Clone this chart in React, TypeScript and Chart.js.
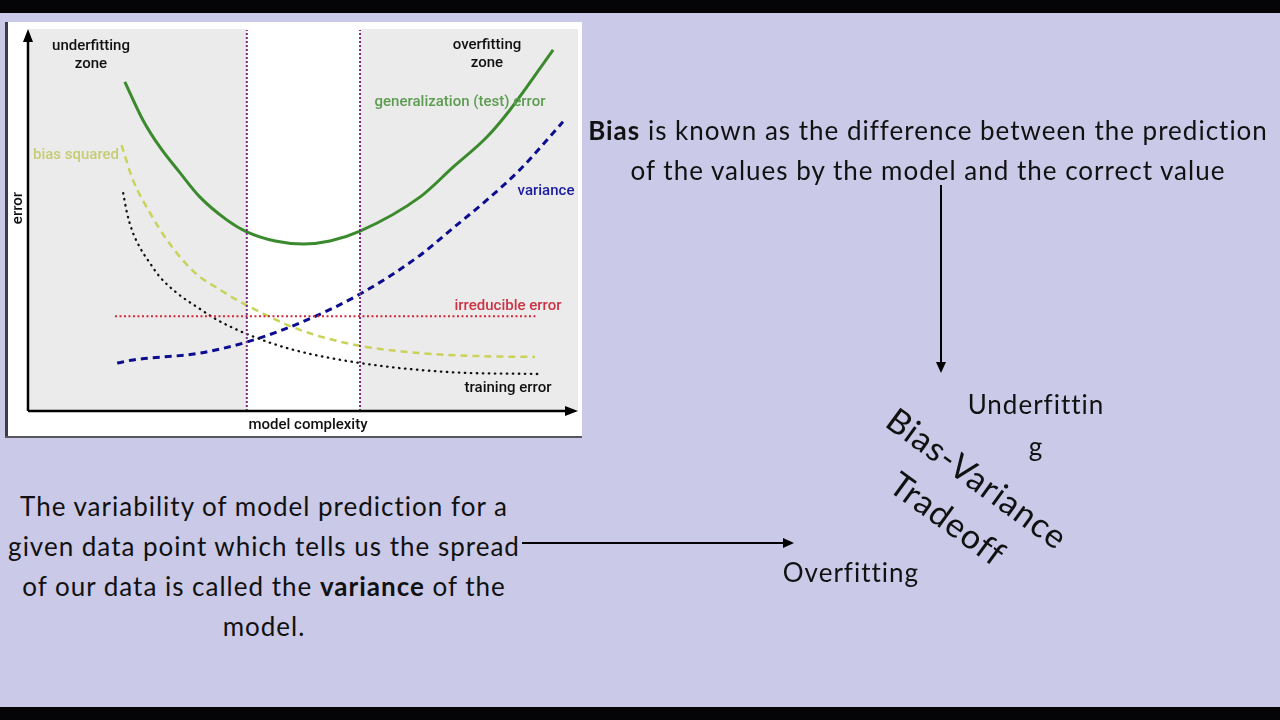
import React, { useEffect, useRef } from "react";
import { Chart, registerables } from "chart.js";

Chart.register(...registerables);

// x: model complexity (0–10), y: error (0–10)
const testError = [
  [1.77, 8.64], [2.1, 7.64], [2.41, 6.93], [2.78, 6.25], [3.14, 5.62], [3.64, 5.01],
  [4.0, 4.7], [4.52, 4.46], [5.03, 4.38], [5.52, 4.46], [6.07, 4.72], [7.17, 5.62],
  [7.77, 6.4], [8.39, 7.19], [8.81, 7.9], [9.6, 9.48],
];
const biasSquared = [
  [1.71, 6.98], [1.92, 6.06], [2.23, 5.2], [2.54, 4.49], [2.83, 3.96], [3.14, 3.52],
  [3.46, 3.23], [3.75, 2.97], [4.02, 2.76], [4.97, 2.13], [6.07, 1.71], [7.17, 1.52],
  [8.26, 1.44], [9.27, 1.42],
];
const trainingError = [
  [1.74, 5.72], [1.81, 5.2], [1.9, 4.75], [2.05, 4.28], [2.23, 3.88], [2.41, 3.52],
  [2.72, 3.1], [3.09, 2.73], [3.46, 2.39], [3.75, 2.18], [4.0, 2.02], [4.79, 1.63],
  [6.07, 1.26], [7.71, 1.02], [9.36, 0.97],
];
const variance = [
  [1.63, 1.26], [1.92, 1.34], [3.14, 1.52], [4.0, 1.81], [4.97, 2.31], [6.07, 3.07],
  [7.17, 4.09], [7.77, 4.8], [8.39, 5.54], [8.99, 6.33], [9.78, 7.59],
];
const irreducible = [[1.59, 2.49], [9.31, 2.49]];
const zoneBounds = [4.0, 6.07];
const yRange = [0, 10];

const toXY = (arr: number[][]) => arr.map(([x, y]) => ({ x, y }));

const bgPlugin = {
  id: "bgPlugin",
  beforeDraw(chart: any) {
    const { ctx, chartArea, scales } = chart;
    const W = chart.width, H = chart.height;
    ctx.save();
    ctx.fillStyle = "#ffffff";
    ctx.fillRect(0, 0, W, H);
    ctx.fillStyle = "#3c3c44";
    ctx.fillRect(0, 0, 3, H);
    ctx.fillStyle = "#56565e";
    ctx.fillRect(0, H - 2, W, 2);
    ctx.fillStyle = "#ebebeb";
    ctx.fillRect(chartArea.left, chartArea.top - 1, chartArea.right + 3 - chartArea.left, chartArea.bottom - chartArea.top + 1);
    const x0 = scales.x.getPixelForValue(zoneBounds[0]);
    const x1 = scales.x.getPixelForValue(zoneBounds[1]);
    ctx.fillStyle = "#ffffff";
    ctx.fillRect(x0, chartArea.top - 1, x1 - x0, chartArea.bottom - chartArea.top + 1);
    ctx.restore();
  },
  afterDatasetsDraw(chart: any) {
    const { ctx, chartArea } = chart;
    const { left, right, top, bottom } = chartArea;
    ctx.save();
    ctx.strokeStyle = "#000";
    ctx.fillStyle = "#000";
    ctx.lineWidth = 2.5;
    ctx.beginPath();
    ctx.moveTo(left, bottom);
    ctx.lineTo(left, top + 8);
    ctx.moveTo(left, bottom);
    ctx.lineTo(right - 4, bottom);
    ctx.stroke();
    ctx.beginPath();
    ctx.moveTo(left, top - 1);
    ctx.lineTo(left - 5, top + 12);
    ctx.lineTo(left + 5, top + 12);
    ctx.closePath();
    ctx.fill();
    ctx.beginPath();
    ctx.moveTo(right + 3, bottom);
    ctx.lineTo(right - 10, bottom - 5);
    ctx.lineTo(right - 10, bottom + 5);
    ctx.closePath();
    ctx.fill();
    ctx.restore();
  },
};

function BiasVarianceChart() {
  const ref = useRef<HTMLCanvasElement>(null);
  useEffect(() => {
    if (!ref.current) return;
    const chart = new Chart(ref.current, {
      type: "line",
      data: {
        datasets: [
          {
            data: toXY([[zoneBounds[0], yRange[0]], [zoneBounds[0], yRange[1]]]),
            borderColor: "#7a2a80", borderWidth: 2, borderDash: [2, 2], tension: 0,
          },
          {
            data: toXY([[zoneBounds[1], yRange[0]], [zoneBounds[1], yRange[1]]]),
            borderColor: "#7a2a80", borderWidth: 2, borderDash: [2, 2], tension: 0,
          },
          {
            data: toXY(irreducible),
            borderColor: "#d0283c", borderWidth: 2, borderDash: [2, 2.5], tension: 0,
          },
          {
            data: toXY(trainingError),
            borderColor: "#111111", borderWidth: 2.3, borderDash: [0.5, 5.5], borderCapStyle: "round",
            cubicInterpolationMode: "monotone",
          },
          {
            data: toXY(biasSquared),
            borderColor: "#c9d35a", borderWidth: 2.5, borderDash: [7, 5],
            cubicInterpolationMode: "monotone",
          },
          {
            data: toXY(variance),
            borderColor: "#0c0c90", borderWidth: 3, borderDash: [7, 5],
            cubicInterpolationMode: "monotone",
          },
          {
            data: toXY(testError),
            borderColor: "#3b8a2e", borderWidth: 3,
            cubicInterpolationMode: "monotone",
          },
        ] as any,
      },
      options: {
        animation: false,
        responsive: false,
        layout: { padding: { left: 23, right: 7, top: 8, bottom: 27 } },
        scales: {
          x: { type: "linear", min: 0, max: 10, display: false },
          y: { type: "linear", min: yRange[0], max: yRange[1], display: false },
        },
        plugins: { legend: { display: false }, tooltip: { enabled: false } },
        elements: { point: { radius: 0 } },
      },
      plugins: [bgPlugin],
    });
    return () => chart.destroy();
  }, []);
  return <canvas ref={ref} width={577} height={416} style={{ position: "absolute", left: 5, top: 22, width: 577, height: 416 }} />;
}

const lbl = (x: number, y: number, extra: React.CSSProperties = {}): React.CSSProperties => ({
  position: "absolute",
  left: x,
  top: y,
  transform: "translate(-50%, -50%)",
  whiteSpace: "nowrap",
  fontFamily: "Roboto, 'Liberation Sans', sans-serif",
  fontSize: 15,
  fontWeight: 500,
  textAlign: "center",
  lineHeight: "18px",
  ...extra,
});

const slideFont = "Lato, 'Noto Sans', sans-serif";
const slideText: React.CSSProperties = { fontSize: 26, letterSpacing: "1px", lineHeight: "40px" };

export default function App() {
  return (
    <div style={{ position: "fixed", left: 0, top: 0, width: 1280, height: 720, background: "#cac9e8", overflow: "hidden", fontFamily: slideFont, color: "#111" }}>
      <div style={{ position: "absolute", left: 0, top: 0, width: 1280, height: 13, background: "#050508" }} />
      <div style={{ position: "absolute", left: 0, top: 707, width: 1280, height: 13, background: "#050508" }} />

      <BiasVarianceChart />
      <div style={lbl(91, 54, { color: "#111" })}>underfitting<br />zone</div>
      <div style={lbl(487, 53, { color: "#111" })}>overfitting<br />zone</div>
      <div style={lbl(460, 101, { color: "#5c9c50" })}>generalization (test) error</div>
      <div style={lbl(76, 154, { color: "#c5cc74" })}>bias squared</div>
      <div style={lbl(546, 190, { color: "#1c1ca0" })}>variance</div>
      <div style={lbl(508, 305, { color: "#cc3446" })}>irreducible error</div>
      <div style={lbl(508, 387, { color: "#111" })}>training error</div>
      <div style={lbl(308, 424, { color: "#111" })}>model complexity</div>
      <div style={lbl(17, 208, { color: "#111", transform: "translate(-50%, -50%) rotate(-90deg)" })}>error</div>

      <div style={{ position: "absolute", left: 560, top: 110, width: 736, textAlign: "center", ...slideText }}>
        <b>Bias</b> is known as the difference between the prediction <br />of the values by the model and the correct value
      </div>

      <div style={{ position: "absolute", left: -20, top: 486, width: 568, textAlign: "center", ...slideText }}>
        The variability of model prediction for a <br />given data point which tells us the spread <br />of our data is called the <b>variance</b> of the <br />model.
      </div>

      <svg width={1280} height={720} style={{ position: "absolute", left: 0, top: 0 }}>
        <line x1={941} y1={185} x2={941} y2={364} stroke="#000" strokeWidth={2} />
        <polygon points="941,373 936,362 946,362" fill="#000" />
        <line x1={522} y1={543} x2={785} y2={543} stroke="#000" strokeWidth={2} />
        <polygon points="794,543 783,538 783,548" fill="#000" />
      </svg>

      <div style={{ position: "absolute", left: 1036, top: 425, transform: "translate(-50%, -50%)", textAlign: "center", ...slideText, lineHeight: "42px", whiteSpace: "nowrap" }}>
        Underfittin<br />g
      </div>
      <div style={{ position: "absolute", left: 851, top: 572, transform: "translate(-50%, -50%)", ...slideText, whiteSpace: "nowrap" }}>
        Overfitting
      </div>

      <div style={{ position: "absolute", left: 963, top: 498, transform: "translate(-50%, -50%) rotate(36deg)", textAlign: "center", fontSize: 34, letterSpacing: "1px", lineHeight: "50px", whiteSpace: "nowrap" }}>
        Bias-Variance<br />Tradeoff
      </div>
    </div>
  );
}
